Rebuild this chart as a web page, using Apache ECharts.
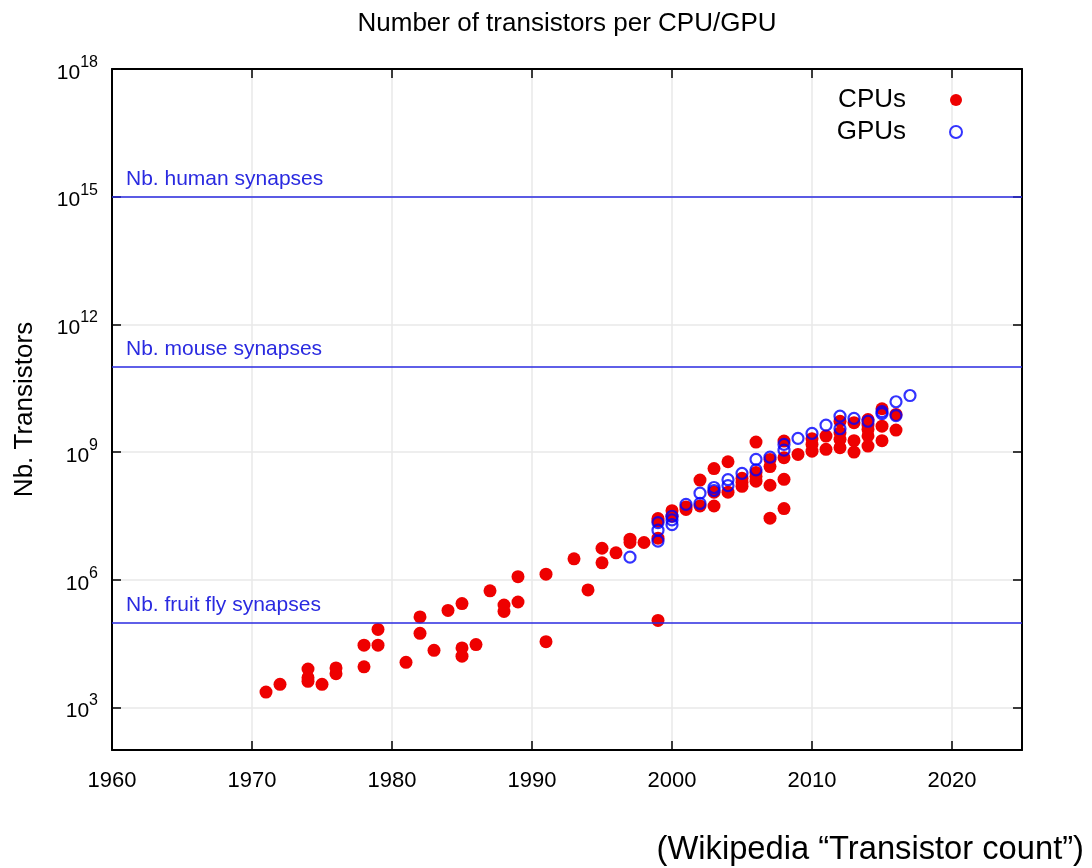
<!DOCTYPE html>
<html>
<head>
<meta charset="utf-8">
<script src="https://cdn.jsdelivr.net/npm/echarts@6/dist/echarts.min.js"></script>
<style>
html,body{margin:0;padding:0;background:#fff;}
#chart{width:1092px;height:868px;}
</style>
</head>
<body>
<div id="chart"></div>
<script>
// ---- data ----
const cpuYears = [
  1971, 1972, 1974, 1974, 1974, 1975, 1976, 1976, 1978, 1978,
  1979, 1979, 1981, 1982, 1982, 1983, 1984, 1985, 1985, 1985,
  1986, 1987, 1988, 1988, 1989, 1989, 1991, 1991, 1993, 1994,
  1995, 1995, 1996, 1997, 1997, 1998, 1999, 1999, 1999, 1999,
  2000, 2000, 2001, 2001, 2002, 2002, 2003, 2003, 2003, 2004,
  2004, 2005, 2005, 2005, 2006, 2006, 2006, 2006, 2007, 2007,
  2007, 2007, 2008, 2008, 2008, 2008, 2009, 2010, 2010, 2010,
  2011, 2011, 2012, 2012, 2012, 2012, 2013, 2013, 2013, 2014,
  2014, 2014, 2014, 2014, 2015, 2015, 2015, 2016, 2016
];
const cpuCounts = [
  2300, 3500, 8000, 5000, 4100, 3500, 8500, 6200, 29000, 9000,
  68000, 29000, 11500, 134000, 55000, 22000, 190000, 275000, 25000, 16000,
  30000, 550000, 255000, 180000, 1180000, 300000, 1350000, 35000, 3100000, 578000,
  5500000, 2500000, 4300000, 9000000, 7500000, 7500000, 27500000, 24000000, 9500000, 111000,
  42000000, 31000000, 51000000, 45000000, 220000000, 54000000, 410000000, 114000000, 54000000, 592000000,
  114000000, 241000000, 195000000, 157000000, 1720000000, 329000000, 265000000, 207000000, 670000000, 455000000,
  166000000, 28000000, 1810000000, 740000000, 229000000, 47000000, 880000000, 2060000000, 1510000000, 1050000000,
  2370000000, 1160000000, 5300000000, 2850000000, 1990000000, 1270000000, 4900000000, 1850000000, 1000000000, 5800000000,
  4300000000, 3400000000, 2400000000, 1380000000, 10400000000, 4060000000, 1850000000, 7650000000, 3280000000
];
const gpuYears = [
  1997, 1999, 1999, 1999, 2000, 2000, 2000, 2001, 2002, 2002,
  2003, 2003, 2004, 2004, 2005, 2006, 2006, 2007, 2008, 2008,
  2009, 2010, 2011, 2012, 2012, 2013, 2014, 2015, 2015, 2016,
  2016, 2017
];
const gpuCounts = [
  3400000, 22000000, 14600000, 8100000, 31000000, 25500000, 19700000, 59000000, 108000000, 62000000,
  147000000, 125000000, 224000000, 163000000, 317000000, 675000000, 383000000, 760000000, 1510000000, 1110000000,
  2100000000, 2740000000, 4300000000, 6980000000, 3530000000, 6200000000, 5300000000, 8900000000, 8000000000, 15200000000,
  7200000000, 21300000000
];
const refNames = ['Nb. human synapses', 'Nb. mouse synapses', 'Nb. fruit fly synapses'];
const refValues = [1e15, 1e11, 1e5];
const xTickValues = [1960, 1970, 1980, 1990, 2000, 2010, 2020];
const yTickValues = [1e3, 1e6, 1e9, 1e12, 1e15, 1e18];

// ---- build ----
const cpuData = cpuYears.map((y, i) => [y, cpuCounts[i]]);
const gpuData = gpuYears.map((y, i) => [y, gpuCounts[i]]);
const refLines = refNames.map((n, i) => ({ name: n, yAxis: refValues[i] }));

const FONT = '"Liberation Sans", Arial, Helvetica, sans-serif';
const RED = '#ee0000';
const BLUE = '#0000ff';
const LINEBLUE = '#2a2ae0';
const Y_MIN = 1e2;
const Y_MAX = 1.0001e18;

const chart = echarts.init(document.getElementById('chart'), null, { renderer: 'canvas' });

const tickStyle = { show: true, inside: true, length: 9, lineStyle: { color: '#000', width: 1.5 } };
const axisLine = { show: true, onZero: false, lineStyle: { color: '#000', width: 2 } };
const gridLine = { show: true, lineStyle: { color: '#e8e8e8', width: 1.5 } };

chart.setOption({
  backgroundColor: '#fff',
  animation: false,
  textStyle: { fontFamily: FONT },
  title: [
    { text: 'Number of transistors per CPU/GPU', left: 562, textAlign: 'center', top: 6,
      textStyle: { fontFamily: FONT, fontSize: 26, fontWeight: 'normal', color: '#000' } },
    { text: '(Wikipedia “Transistor count”)', right: 3, bottom: -3,
      textStyle: { fontFamily: FONT, fontSize: 32.7, fontWeight: 'normal', color: '#000' } }
  ],
  legend: {
    orient: 'vertical',
    right: 124,
    top: 82,
    align: 'right',
    itemWidth: 90,
    itemHeight: 12,
    itemGap: 6,
    textStyle: { fontFamily: FONT, fontSize: 26, color: '#000' },
    data: ['CPUs', 'GPUs']
  },
  grid: { left: 112, right: 70, top: 69, bottom: 118, containLabel: false },
  xAxis: [
    { type: 'value', position: 'bottom', min: 1960, max: 2025, interval: 10,
      axisLine: axisLine,
      axisTick: Object.assign({}, tickStyle, { customValues: xTickValues }),
      axisLabel: { show: true, customValues: xTickValues, fontFamily: FONT, fontSize: 22, color: '#000', margin: 20,
        formatter: function (v) { return String(v); } },
      splitLine: gridLine },
    { type: 'value', position: 'top', min: 1960, max: 2025, interval: 10,
      axisLine: axisLine,
      axisTick: Object.assign({}, tickStyle, { customValues: xTickValues }),
      axisLabel: { show: false },
      splitLine: { show: false } }
  ],
  yAxis: [
    { type: 'log', logBase: 10, position: 'left', min: Y_MIN, max: Y_MAX,
      name: 'Nb. Transistors', nameLocation: 'middle', nameGap: 74,
      nameTextStyle: { fontFamily: FONT, fontSize: 26, color: '#000' },
      axisLine: axisLine,
      axisTick: Object.assign({}, tickStyle, { customValues: yTickValues }),
      axisLabel: {
        show: true, customValues: yTickValues, margin: 14, showMaxLabel: true, showMinLabel: true,
        formatter: function (v) {
          const e = Math.round(Math.log10(v));
          return '{b|10}{s|' + e + '}';
        },
        rich: {
          b: { fontFamily: FONT, fontSize: 21, color: '#000', verticalAlign: 'bottom', padding: [8, 0, 0, 0] },
          s: { fontFamily: FONT, fontSize: 16, color: '#000', verticalAlign: 'top' }
        }
      },
      splitLine: gridLine },
    { type: 'log', logBase: 10, position: 'right', min: Y_MIN, max: Y_MAX,
      axisLine: axisLine,
      axisTick: Object.assign({}, tickStyle, { customValues: yTickValues }),
      axisLabel: { show: false },
      splitLine: { show: false } }
  ],
  series: [
    {
      name: 'CPUs', type: 'scatter', xAxisIndex: 0, yAxisIndex: 0,
      symbol: 'circle', symbolSize: 13,
      itemStyle: { color: RED, opacity: 1 },
      data: cpuData,
      markLine: {
        silent: true, symbol: 'none',
        lineStyle: { color: LINEBLUE, width: 1.5, type: 'solid' },
        label: { show: true, position: 'insideStartTop', formatter: '{b}', distance: [14, 7],
          fontFamily: FONT, fontSize: 21, color: LINEBLUE },
        emphasis: { disabled: true },
        data: refLines
      },
      z: 3
    },
    {
      name: 'GPUs', type: 'scatter', xAxisIndex: 0, yAxisIndex: 0,
      symbol: 'circle', symbolSize: 11,
      itemStyle: { color: 'rgba(255,255,255,0)', borderColor: BLUE, borderWidth: 2.2 },
      data: gpuData,
      z: 4
    }
  ]
});
</script>
</body>
</html>
